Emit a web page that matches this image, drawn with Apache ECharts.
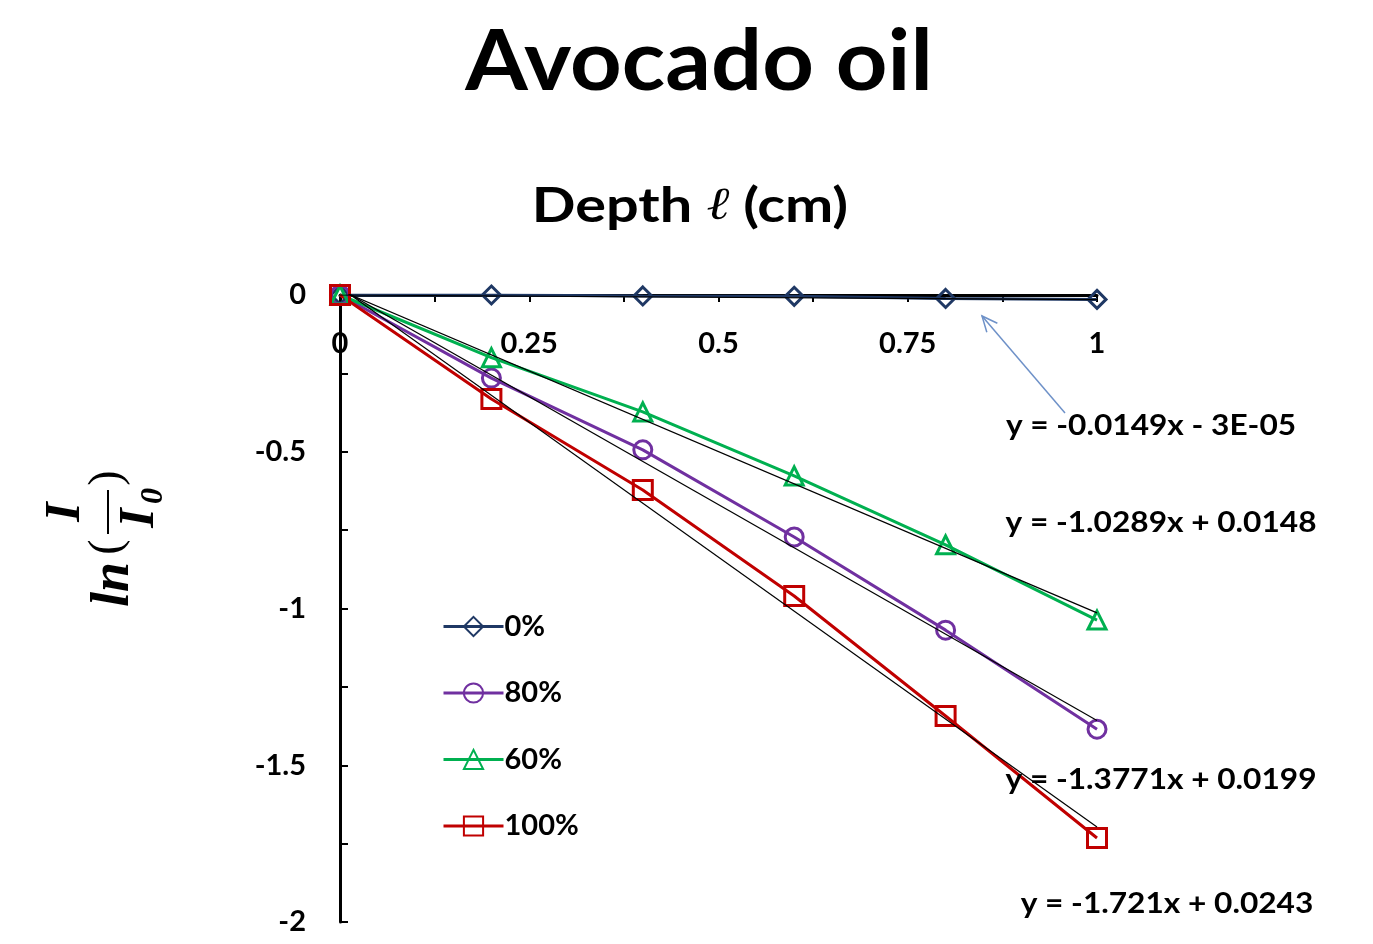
<!DOCTYPE html>
<html>
<head>
<meta charset="utf-8">
<title>Avocado oil</title>
<script src="https://cdn.jsdelivr.net/npm/echarts@6/dist/echarts.min.js"></script>
<style>
  html, body { margin: 0; padding: 0; background: #fff; }
  #chart { width: 1373px; height: 944px; }
</style>
</head>
<body>
<div id="chart"></div>
<script>
// Depth (cm) at which each absorbance reading was taken
const depths = [0, 0.2, 0.4, 0.6, 0.8, 1.0];

// Series names in legend order and their colours
const seriesNames = ['0%', '80%', '60%', '100%'];
const seriesColors = ['#1F3864', '#7030A0', '#00B050', '#C00000'];
const seriesSymbols = ['diamond', 'circle', 'triangle', 'rect'];

// ln(I/I0) readings per concentration
const values0 = [0, 0, -0.003, -0.004, -0.011, -0.014];
const values80 = [0, -0.265, -0.494, -0.772, -1.069, -1.385];
const values60 = [0, -0.200, -0.373, -0.577, -0.797, -1.037];
const values100 = [0, -0.332, -0.622, -0.960, -1.343, -1.732];

// Linear fit coefficients (y = slope * x + intercept)
const fitSlopes = [-0.0149, -1.0289, -1.3771, -1.721];
const fitIntercepts = [-0.00003, 0.0148, 0.0199, 0.0243];

const allValues = [values0, values80, values60, values100];

const FONT = 'Lato, "Open Sans", sans-serif';
const SERIF = '"Liberation Serif", "DejaVu Serif", serif';

function fmtCoef(v) {
  const a = Math.abs(v);
  if (a > 0 && a < 0.001) {
    return a.toExponential(0).toUpperCase().replace(/E([+-])(\d)$/, 'E$10$2');
  }
  return String(a);
}
function equationText(m, b) {
  return 'y = ' + (m < 0 ? '-' : '') + fmtCoef(m) + 'x ' + (b < 0 ? '- ' : '+ ') + fmtCoef(b);
}

const chart = echarts.init(document.getElementById('chart'));

const dataSeries = seriesNames.map((name, i) => ({
  name: name,
  type: 'line',
  data: depths.map((d, k) => [d, allValues[i][k]]),
  symbol: seriesSymbols[i],
  symbolSize: i === 3 ? 19 : 18,
  showSymbol: true,
  z: 3,
  lineStyle: { color: seriesColors[i], width: 3 },
  itemStyle: { color: 'rgba(255,255,255,0)', borderColor: seriesColors[i], borderWidth: 3 },
  emphasis: { disabled: true }
}));

const fitSeries = fitSlopes.map((m, i) => ({
  name: 'fit-' + seriesNames[i],
  type: 'line',
  data: [[0, fitIntercepts[i]], [1, m + fitIntercepts[i]]],
  symbol: 'none',
  silent: true,
  z: 4,
  lineStyle: { color: '#000', width: 1.2 },
  emphasis: { disabled: true }
}));

// Positions of the trendline equation labels
const eqPos = [[1151, 426], [1161, 523], [1161, 780], [1167, 904]];

const eqGraphics = fitSlopes.map((m, i) => ({
  type: 'text',
  x: eqPos[i][0], y: eqPos[i][1],
  scaleX: 1.13,
  z: 10,
  style: {
    text: equationText(m, fitIntercepts[i]),
    font: 'bold 28px ' + FONT,
    fill: '#000',
    align: 'center', verticalAlign: 'middle'
  }
}));

// Arrow pointing from the 0% equation towards its trendline
const arrowTail = [1065, 413], arrowTip = [982, 316];
const adx = arrowTail[0] - arrowTip[0], ady = arrowTail[1] - arrowTip[1];
const alen = Math.hypot(adx, ady);
const ux = adx / alen, uy = ady / alen;
const headLen = 17, headAng = 0.42;
function rot(x, y, a) { return [x * Math.cos(a) - y * Math.sin(a), x * Math.sin(a) + y * Math.cos(a)]; }
const h1 = rot(ux, uy, headAng), h2 = rot(ux, uy, -headAng);

const arrowGraphics = [
  { type: 'line', z: 10, shape: { x1: arrowTail[0], y1: arrowTail[1], x2: arrowTip[0], y2: arrowTip[1] },
    style: { stroke: '#6E91C8', lineWidth: 1.5 } },
  { type: 'polyline', z: 10,
    shape: { points: [
      [arrowTip[0] + h1[0] * headLen, arrowTip[1] + h1[1] * headLen],
      arrowTip,
      [arrowTip[0] + h2[0] * headLen, arrowTip[1] + h2[1] * headLen]
    ] },
    style: { stroke: '#6E91C8', lineWidth: 1.5, fill: null } }
];

// Rotated y-axis title: ln(I / I0)
const yTitle = {
  type: 'group',
  x: 110, y: 540,
  rotation: Math.PI / 2,
  children: [
    { type: 'text', x: -22, y: 31, style: { text: 'ln', font: 'italic bold 54px ' + SERIF, fill: '#000', align: 'right', verticalAlign: 'bottom' } },
    { type: 'text', x: -7, y: -2, style: { text: '(', font: '46px ' + SERIF, fill: '#000', align: 'center', verticalAlign: 'middle' } },
    { type: 'line', shape: { x1: 6, y1: -2, x2: 50, y2: -2 }, style: { stroke: '#000', lineWidth: 2 } },
    { type: 'text', x: 28, y: -44, style: { text: 'I', font: 'italic bold 50px ' + SERIF, fill: '#000', align: 'center', verticalAlign: 'middle' } },
    { type: 'text', x: 22, y: 30, style: { text: 'I', font: 'italic bold 50px ' + SERIF, fill: '#000', align: 'center', verticalAlign: 'middle' } },
    { type: 'text', x: 44, y: 44, style: { text: '0', font: 'italic bold 32px ' + SERIF, fill: '#000', align: 'center', verticalAlign: 'middle' } },
    { type: 'text', x: 62, y: -2, style: { text: ')', font: '46px ' + SERIF, fill: '#000', align: 'center', verticalAlign: 'middle' } }
  ]
};

// Chart title
const mainTitle = {
  type: 'text',
  x: 699, y: 63,
  scaleX: 1.06,
  style: {
    text: 'Avocado oil',
    font: 'bold 85px ' + FONT,
    fill: '#000',
    align: 'center', verticalAlign: 'middle'
  }
};

// X-axis title above the axis
const xTitle = {
  type: 'text',
  x: 690, y: 207,
  scaleX: 1.2,
  style: {
    text: '{t|Depth }{l|ℓ}{t| (cm)}',
    align: 'center', verticalAlign: 'middle',
    rich: {
      t: { font: 'bold 48px ' + FONT, fill: '#000' },
      l: { font: 'italic 46px ' + SERIF, fill: '#000' }
    }
  }
};

function labelEvery(step) {
  return function (v) {
    const r = Math.round(v / step * 2);
    return r % 2 === 0 ? String(Math.round(v * 1000) / 1000) : '';
  };
}

chart.setOption({
  animation: false,
  backgroundColor: '#fff',
  legend: {
    data: seriesNames,
    orient: 'vertical',
    left: 437,
    top: 607,
    itemWidth: 60,
    itemHeight: 24,
    itemGap: 37.5,
    lineStyle: { width: 3 },
    textStyle: { fontFamily: FONT, fontWeight: 'bold', fontSize: 29, color: '#000', padding: [0, 0, 0, -4] },
    selectedMode: false
  },
  grid: { left: 340, right: 276, top: 295, bottom: 22, containLabel: false },
  xAxis: {
    type: 'value',
    min: 0, max: 1, interval: 0.125,
    position: 'top',
    axisLine: { onZero: false, lineStyle: { color: '#000', width: 3 } },
    axisTick: { inside: true, length: 7, lineStyle: { color: '#000', width: 2 } },
    axisLabel: {
      inside: true, margin: 34,
      formatter: labelEvery(0.25),
      fontFamily: FONT, fontWeight: 'bold', fontSize: 29, color: '#000'
    },
    splitLine: { show: false }
  },
  yAxis: {
    type: 'value',
    min: -2, max: 0, interval: 0.25,
    axisLine: { onZero: false, lineStyle: { color: '#000', width: 3 } },
    axisTick: { inside: true, length: 8, lineStyle: { color: '#000', width: 2 } },
    axisLabel: {
      margin: 34,
      formatter: labelEvery(0.5),
      fontFamily: FONT, fontWeight: 'bold', fontSize: 29, color: '#000'
    },
    splitLine: { show: false }
  },
  graphic: [mainTitle, xTitle, yTitle].concat(eqGraphics, arrowGraphics),
  series: dataSeries.concat(fitSeries)
});
</script>
</body>
</html>
